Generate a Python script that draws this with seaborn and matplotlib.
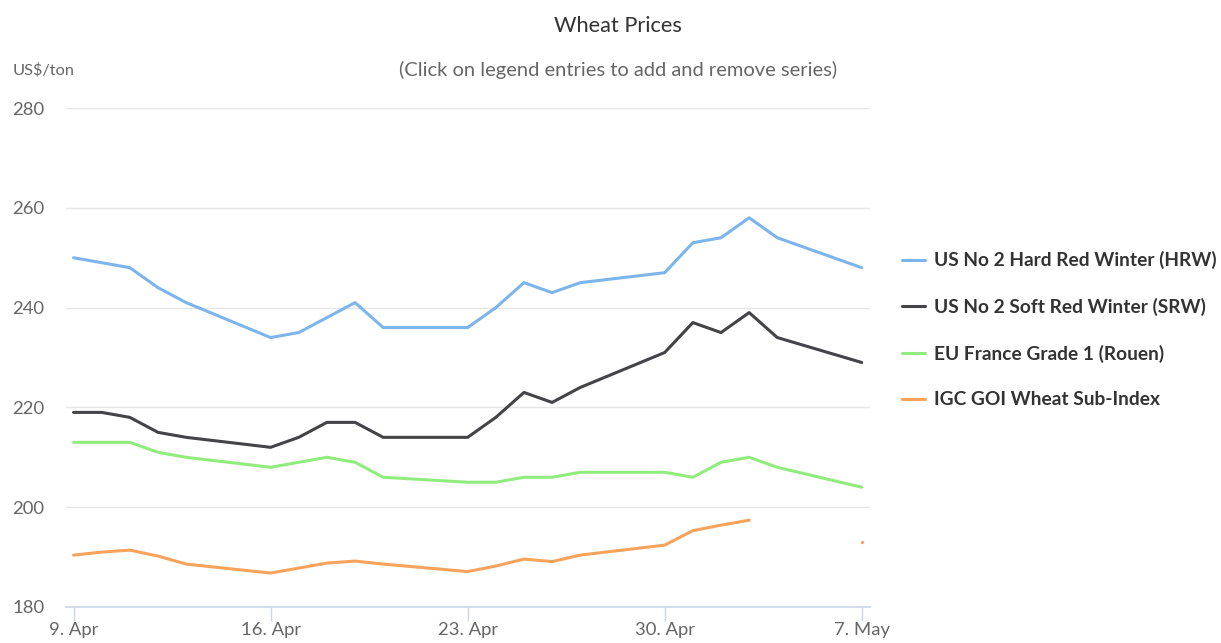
"""
Wheat Prices line chart (IGC style), redrawn with seaborn.
"""

import numpy as np
import pandas as pd
import matplotlib
matplotlib.use("Agg")
import matplotlib.pyplot as plt
from matplotlib.lines import Line2D
import seaborn as sns

# ─────────────────────────────────────────────
# Data (US$/ton, weekdays only)
# ─────────────────────────────────────────────

dates = pd.to_datetime([
    "2018-04-09", "2018-04-10", "2018-04-11", "2018-04-12", "2018-04-13",
    "2018-04-16", "2018-04-17", "2018-04-18", "2018-04-19", "2018-04-20",
    "2018-04-23", "2018-04-24", "2018-04-25", "2018-04-26", "2018-04-27",
    "2018-04-30", "2018-05-01", "2018-05-02", "2018-05-03", "2018-05-04",
    "2018-05-07",
])

hrw = [250, 249, 248, 244, 241, 234, 235, 238, 241, 236,
       236, 240, 245, 243, 245, 247, 253, 254, 258, 254, 248]
srw = [219, 219, 218, 215, 214, 212, 214, 217, 217, 214,
       214, 218, 223, 221, 224, 231, 237, 235, 239, 234, 229]
eu_rouen = [213, 213, 213, 211, 210, 208, 209, 210, 209, 206,
            205, 205, 206, 206, 207, 207, 206, 209, 210, 208, 204]
igc_goi = [190.4, 191.0, 191.4, 190.2, 188.6, 186.8, 187.8, 188.8, 189.2, 188.6,
           187.1, 188.2, 189.6, 189.1, 190.4, 192.4, 195.3, 196.4, 197.4, np.nan,
           193.0]

series_names = [
    "US No 2 Hard Red Winter (HRW)",
    "US No 2 Soft Red Winter (SRW)",
    "EU France Grade 1 (Rouen)",
    "IGC GOI Wheat Sub-Index",
]
series_values = [hrw, srw, eu_rouen, igc_goi]
colors = ["#7cb5ec", "#434348", "#90ed7d", "#f7a35c"]

x_ticks = pd.to_datetime(["2018-04-09", "2018-04-16", "2018-04-23", "2018-04-30", "2018-05-07"])
x_tick_labels = ["9. Apr", "16. Apr", "23. Apr", "30. Apr", "7. May"]
y_ticks = [180, 200, 220, 240, 260, 280]

# ─────────────────────────────────────────────
# Plot
# ─────────────────────────────────────────────

sns.set_theme(style="white")
plt.rcParams["font.family"] = ["Lato", "DejaVu Sans"]

fig = plt.figure(figsize=(12.21, 6.43), dpi=100)
ax = fig.add_axes([0.054, 0.056, 0.6585, 0.776])


def runs(vals):
    """Split a series into contiguous non-NaN index runs."""
    out, cur = [], []
    for i, v in enumerate(vals):
        if np.isnan(v):
            if cur:
                out.append(cur)
            cur = []
        else:
            cur.append(i)
    if cur:
        out.append(cur)
    return out


for name, vals, col in zip(series_names, series_values, colors):
    vals = np.asarray(vals, dtype=float)
    for idx in runs(vals):
        if len(idx) > 1:
            sns.lineplot(x=dates[idx], y=vals[idx], ax=ax, color=col,
                         linewidth=2.2, estimator=None)
        else:
            sns.scatterplot(x=dates[idx], y=vals[idx], ax=ax, color=col,
                            s=6, linewidth=0)

ax.set_ylim(180, 280)
ax.set_xlim(dates[0] - pd.Timedelta(hours=6.5), dates[-1] + pd.Timedelta(hours=7))
ax.set_yticks(y_ticks)
ax.set_xticks(x_ticks)
ax.set_xticklabels(x_tick_labels)
ax.set_xlabel("")
ax.set_ylabel("")

ax.grid(axis="y", color="#e6e6e6", linewidth=1)
ax.grid(axis="x", visible=False)
for side in ["top", "right", "left"]:
    ax.spines[side].set_visible(False)
ax.spines["bottom"].set_color("#ccd6eb")
ax.spines["bottom"].set_linewidth(1.2)

ax.tick_params(axis="x", direction="out", length=10, width=1, color="#ccd6eb",
               labelsize=13.3, labelcolor="#666666", pad=1, bottom=True)
ax.tick_params(axis="y", length=0, labelsize=13.3, labelcolor="#666666", pad=0)
for lab in ax.get_yticklabels():
    lab.set_horizontalalignment("left")
    lab.set_x(-0.067)

# titles
fig.text(0.506, 0.960, "Wheat Prices", ha="center", va="center",
         fontsize=15.7, color="#333333")
fig.text(0.506, 0.891, "(Click on legend entries to add and remove series)",
         ha="center", va="center", fontsize=14.5, color="#666666")
fig.text(0.010, 0.891, "US$/ton", ha="left", va="center",
         fontsize=11.8, color="#666666")

# legend
handles = [Line2D([0], [0], color=c, linewidth=2.2) for c in colors]
leg = fig.legend(handles, series_names, loc="upper left",
                 bbox_to_anchor=(0.7247, 0.636), frameon=False,
                 handlelength=1.2, handletextpad=0.47, labelspacing=1.49,
                 prop={"size": 13.8, "weight": "bold"})
for t in leg.get_texts():
    t.set_color("#333333")

plt.savefig("out.png", dpi=100)
plt.close()
